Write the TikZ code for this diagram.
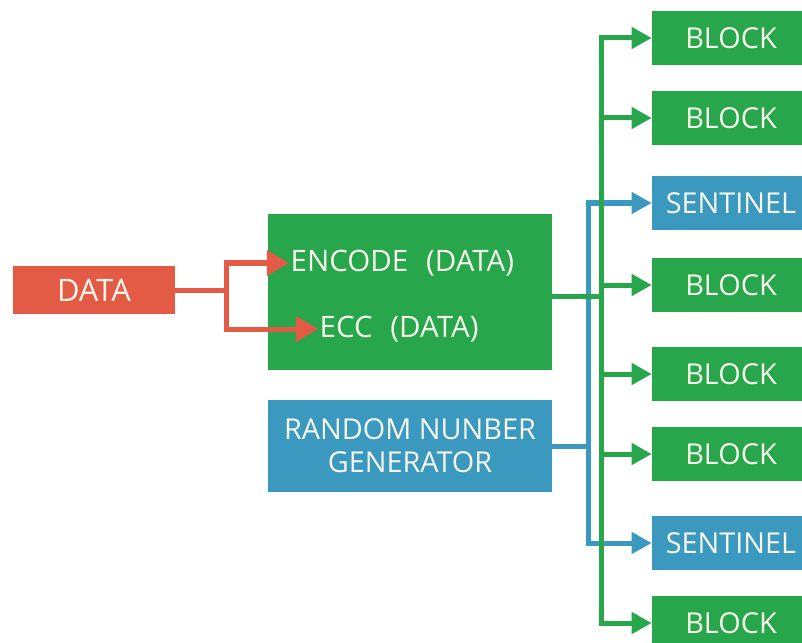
\documentclass[tikz,border=0pt]{standalone}
\usepackage{fontspec}
\setmainfont{Open Sans}
\usepackage{xcolor}
\usepackage{tikz}
\usetikzlibrary{positioning, arrows.meta}

\definecolor{boxgreen}{HTML}{27A64B}
\definecolor{boxblue}{HTML}{3B98BE}
\definecolor{boxred}{HTML}{E35B45}
\definecolor{labelwhite}{HTML}{F6F6EC}

\begin{document}
\begin{tikzpicture}[
    x=0.025cm, y=-0.025cm,
    % Define common styles
        gbox/.style={rectangle, fill=boxgreen, text=labelwhite, align=center, inner sep=0pt},
        bbox/.style={rectangle, fill=boxblue, text=labelwhite, align=center, inner sep=0pt},
        rbox/.style={rectangle, fill=boxred, text=labelwhite, align=center, inner sep=0pt},
        cell/.style={minimum width=3.95cm, minimum height=1.325cm, font=\fontsize{20.5}{24}\selectfont},
        label/.style={text=labelwhite, font=\fontsize{21}{24}\selectfont, inner sep=1pt, anchor=west},
        gline/.style={draw=boxgreen, line width=0.125cm},
        bline/.style={draw=boxblue, line width=0.125cm},
        rline/.style={draw=boxred, line width=0.125cm},
        garrow/.style={gline, -{Triangle[length=0.5cm, width=0.52cm]}},
        barrow/.style={bline, -{Triangle[length=0.5cm, width=0.52cm]}},
        rarrow/.style={rline, -{Triangle[length=0.55cm, width=0.62cm]}}
    ]

        \clip (0,0) rectangle (802,643);
        \useasboundingbox (0,0) rectangle (802,643);

        % Input node
        \node[rbox, minimum width=4.05cm, minimum height=1.2cm, font=\fontsize{22}{26}\selectfont] (data) at (94,290) {DATA};

        % Encoder box with its two lines
        \node[gbox, minimum width=7.1cm, minimum height=3.9cm] (encbox) at (410,292) {};
        \node[label] (enc) at (289,263) {ENCODE\hspace{0.6em}(DATA)};
        \node[label] (ecc) at (318,329) {ECC\hspace{0.6em}(DATA)};

        % Random number generator
        \node[bbox, minimum width=7.1cm, minimum height=2.3cm, font=\fontsize{20.5}{23.5}\selectfont] (rng) at (410,446) {RANDOM NUNBER\\GENERATOR};

        % Output column
        \node[gbox, cell] (blk1) at (731,38) {BLOCK};
        \node[gbox, cell] (blk2) at (731,118) {BLOCK};
        \node[bbox, cell] (sen1) at (731,203) {SENTINEL};
        \node[gbox, cell] (blk3) at (731,285) {BLOCK};
        \node[gbox, cell] (blk4) at (731,374) {BLOCK};
        \node[gbox, cell] (blk5) at (731,454) {BLOCK};
        \node[bbox, cell] (sen2) at (731,543) {SENTINEL};
        \node[gbox, cell] (blk6) at (731,623) {BLOCK};

        % Split points
        \coordinate (rsplit) at (226,290);
        \coordinate (gsplit) at (601,296);
        \coordinate (bsplit) at (588,446);

        % Data into the encoder
        \draw[rline] (data.east) -- (rsplit);
        \draw[rarrow] (rsplit) |- (enc.west);
        \draw[rarrow] (rsplit) |- (ecc.west);

        % Random numbers to the sentinels
        \draw[bline] (rng.east) -- (bsplit);
        \draw[barrow] (bsplit) |- (sen1.west);
        \draw[barrow] (bsplit) |- (sen2.west);

        % Encoded data to the blocks
        \draw[gline] (encbox.east |- gsplit) -- (gsplit);
        \draw[garrow] (gsplit) |- (blk1.west);
        \draw[garrow] (gsplit) |- (blk2.west);
        \draw[garrow] (gsplit) |- (blk3.west);
        \draw[garrow] (gsplit) |- (blk4.west);
        \draw[garrow] (gsplit) |- (blk5.west);
        \draw[garrow] (gsplit) |- (blk6.west);

    \end{tikzpicture}
\end{document}
